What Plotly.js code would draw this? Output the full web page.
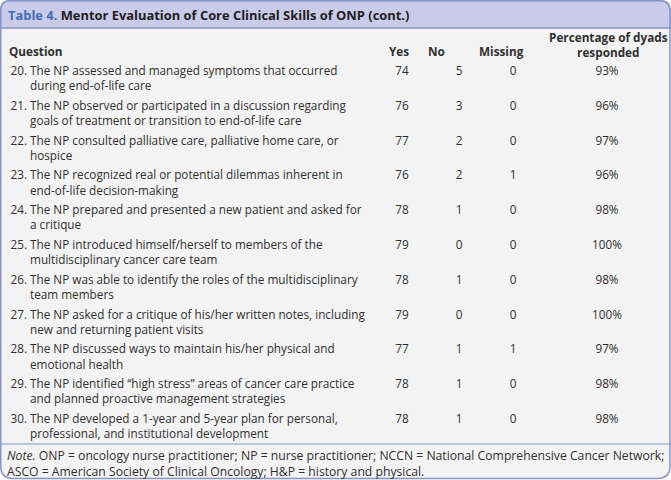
<!DOCTYPE html>
<html><head><meta charset="utf-8">
<script src="https://cdn.plot.ly/plotly-3.0.1.min.js"></script>
<style>html,body{margin:0;padding:0;background:#fff}#c{width:671px;height:480px}</style>
</head><body><div id="c"></div>
<script>
const questionNums = ["20.","21.","22.","23.","24.","25.","26.","27.","28.","29.","30."];
const questionLine1 = [
 "The NP assessed and managed symptoms that occurred",
 "The NP observed or participated in a discussion regarding",
 "The NP consulted palliative care, palliative home care, or",
 "The NP recognized real or potential dilemmas inherent in",
 "The NP prepared and presented a new patient and asked for",
 "The NP introduced himself/herself to members of the",
 "The NP was able to identify the roles of the multidisciplinary",
 "The NP asked for a critique of his/her written notes, including",
 "The NP discussed ways to maintain his/her physical and",
 "The NP identified \u201chigh stress\u201d areas of cancer care practice",
 "The NP developed a 1-year and 5-year plan for personal,"
];
const questionLine2 = [
 "during end-of-life care",
 "goals of treatment or transition to end-of-life care",
 "hospice",
 "end-of-life decision-making",
 "a critique",
 "multidisciplinary cancer care team",
 "team members",
 "new and returning patient visits",
 "emotional health",
 "and planned proactive management strategies",
 "professional, and institutional development"
];
const yesCounts = [74,76,77,76,78,79,78,79,77,78,78];
const noCounts = [5,3,2,2,1,0,1,0,1,1,1];
const missingCounts = [0,0,0,1,0,0,0,0,1,0,0];
const pctResponded = [93,96,97,96,98,100,98,100,97,98,98];
const headers = ["Question","Yes","No","Missing","Percentage of dyads<br>responded"];
const titleLabel = "Table 4.";
const titleText = "Mentor Evaluation of Core Clinical Skills of ONP (cont.)";
const noteLines = ["<i>Note.</i> ONP = oncology nurse practitioner; NP = nurse practitioner; NCCN = National Comprehensive Cancer Network;",
 "ASCO = American Society of Clinical Oncology; H&amp;P = history and physical."];

const FONT = "Open Sans, Lato, sans-serif";
const TXT = "#303030";
const FS = 11.75;
const rows = yesCounts.map((_, i) => i);
const rowCenterOff = 0.19;

function textTrace(xv, yv, txt, pos) {
  return {type:'scatter', mode:'text', x:xv, y:yv, text:txt, textposition:pos,
    textfont:{family:FONT, size:FS, color:TXT}, hoverinfo:'skip', showlegend:false, cliponaxis:false};
}
const col = {num:27, q:30, yes:402, no:459, miss:513, pct:607};
const traces = [
  textTrace(rows.map(()=>col.num), rows.map(r=>r-0.025), questionNums, 'middle left'),
  textTrace(rows.map(()=>col.q), rows.map(r=>r+rowCenterOff), questionLine1.map((t,i)=>t+'<br>'+questionLine2[i]), 'middle right'),
  textTrace(rows.map(()=>col.yes), rows.map(r=>r-0.025), yesCounts.map(String), 'middle center'),
  textTrace(rows.map(()=>col.no), rows.map(r=>r-0.025), noCounts.map(String), 'middle center'),
  textTrace(rows.map(()=>col.miss), rows.map(r=>r-0.025), missingCounts.map(String), 'middle center'),
  textTrace(rows.map(()=>col.pct), rows.map(r=>r-0.025), pctResponded.map(v=>v+'%'), 'middle center')
];

const BORDER = "#8593c9";
const shapes = [
  {type:'path', xref:'x2', yref:'y2', layer:'below',
   path:'M 10 0.75 L 660 0.75 Q 670 0.75 670 10.75 L 670 466 Q 670 478.5 657 478.5 L 13 478.5 Q 0.75 478.5 0.75 466 L 0.75 10.75 Q 0.75 0.75 10 0.75 Z',
   fillcolor:'#f3f3f3', line:{color:BORDER, width:1.5}},
  {type:'path', xref:'x2', yref:'y2', layer:'below',
   path:'M 10 0.75 L 660 0.75 Q 670 0.75 670 10.75 L 670 28 L 0.75 28 L 0.75 10.75 Q 0.75 0.75 10 0.75 Z',
   fillcolor:'#c9cbe8', line:{color:BORDER, width:1.5}},
  {type:'line', xref:'x2', yref:'y2', x0:0.75, x1:670, y0:444, y1:444, line:{color:BORDER, width:1.2}}
];

const ann = [
  {xref:'x2', yref:'y2', x:6, y:15, xanchor:'left', yanchor:'middle', showarrow:false,
   text:'<span style="color:#3f6fb7">'+titleLabel+'</span> '+titleText,
   font:{family:FONT, size:12.9, color:'#1e1e1e', weight:700}},
  {xref:'x2', yref:'y2', x:7, y:51, xanchor:'left', yanchor:'middle', showarrow:false, text:headers[0], font:{family:FONT,size:FS,color:TXT,weight:700}},
  {xref:'x2', yref:'y2', x:399, y:51, xanchor:'center', yanchor:'middle', showarrow:false, text:headers[1], font:{family:FONT,size:FS,color:TXT,weight:700}},
  {xref:'x2', yref:'y2', x:436, y:51, xanchor:'center', yanchor:'middle', showarrow:false, text:headers[2], font:{family:FONT,size:FS,color:TXT,weight:700}},
  {xref:'x2', yref:'y2', x:501, y:51, xanchor:'center', yanchor:'middle', showarrow:false, text:headers[3], font:{family:FONT,size:FS,color:TXT,weight:700}},
  {xref:'x2', yref:'y2', x:608, y:44.5, xanchor:'center', yanchor:'middle', showarrow:false, text:headers[4], font:{family:FONT,size:FS,color:TXT,weight:700}},
  {xref:'x2', yref:'y2', x:5, y:463, xanchor:'left', yanchor:'middle', showarrow:false, align:'left',
   text:noteLines.join('<br>'), font:{family:FONT,size:12.2,color:TXT}}
];

const rowPitch = 34.8, firstRowPx = 73;
const layout = {
  width:671, height:480, margin:{l:0,r:0,t:0,b:0},
  paper_bgcolor:'#ffffff', plot_bgcolor:'rgba(0,0,0,0)',
  xaxis:{range:[0,671], visible:false, fixedrange:true},
  yaxis:{range:[(480-firstRowPx)/rowPitch, -firstRowPx/rowPitch], visible:false, fixedrange:true},
  xaxis2:{range:[0,671], visible:false, overlaying:'x', fixedrange:true},
  yaxis2:{range:[480,0], visible:false, overlaying:'y', fixedrange:true},
  shapes:shapes, annotations:ann, showlegend:false
};
Plotly.newPlot('c', traces, layout, {staticPlot:true, displayModeBar:false});
</script></body></html>
